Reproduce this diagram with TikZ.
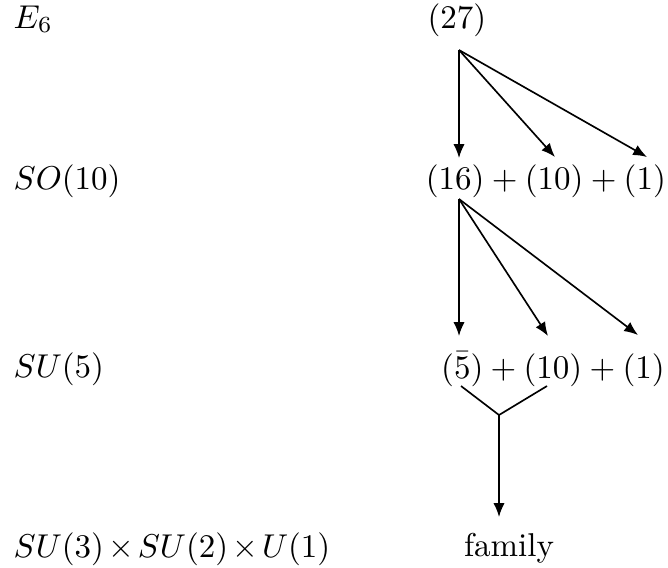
\documentclass[tikz,border=0pt]{standalone}
\usepackage{amsmath}
\usetikzlibrary{arrows.meta, positioning}

\begin{document}
\begin{tikzpicture}[
    x=0.303pt, y=-0.303pt,
    group/.style={anchor=base west, inner sep=0pt},
    rep/.style={anchor=base, inner sep=0pt},
    arrow/.style={-{Latex[length=4.2pt, width=3.4pt]}, line width=0.5pt}
]
\useasboundingbox (0,0) rectangle (668,567);

% Groups
\node[group] (e6) at (13,28) {$E_6$};
\node[group] (so10) at (13,189) {$SO(10)$};
\node[group] (su5) at (13,377) {$SU(5)$};
\node[group] (sm) at (13,557) {$\medmuskip=2.2mu SU(3)\times SU(2)\times U(1)$};

% Representations
\node[rep] (r27) at (457,28) {$(27)$};
\node[rep] (r16) at (546,189) {$(16)+(10)+(1)$};
\node[rep] (r5) at (553,378) {$(\bar{5})+(10)+(1)$};
\node[rep] (fam) at (509,556) {family};

% Branching points
\coordinate (s27) at (459,50);
\coordinate (to16) at (459,158);
\coordinate (to10) at (555,157);
\coordinate (to1) at (647,157);
\coordinate (s16) at (459,199);
\coordinate (to5) at (459,336);
\coordinate (to10b) at (548,336);
\coordinate (to1b) at (638,335);
\coordinate (from5) at (461,386);
\coordinate (from10) at (547,386);
\coordinate (join) at (499,415);
\coordinate (tofam) at (499,517);

% Arrows
\draw[arrow] (s27) -- (to16);
\draw[arrow] (s27) -- (to10);
\draw[arrow] (s27) -- (to1);
\draw[arrow] (s16) -- (to5);
\draw[arrow] (s16) -- (to10b);
\draw[arrow] (s16) -- (to1b);
\draw[line width=0.5pt] (from5) -- (join) -- (from10);
\draw[arrow] (join) -- (tofam);

\end{tikzpicture}
\end{document}
